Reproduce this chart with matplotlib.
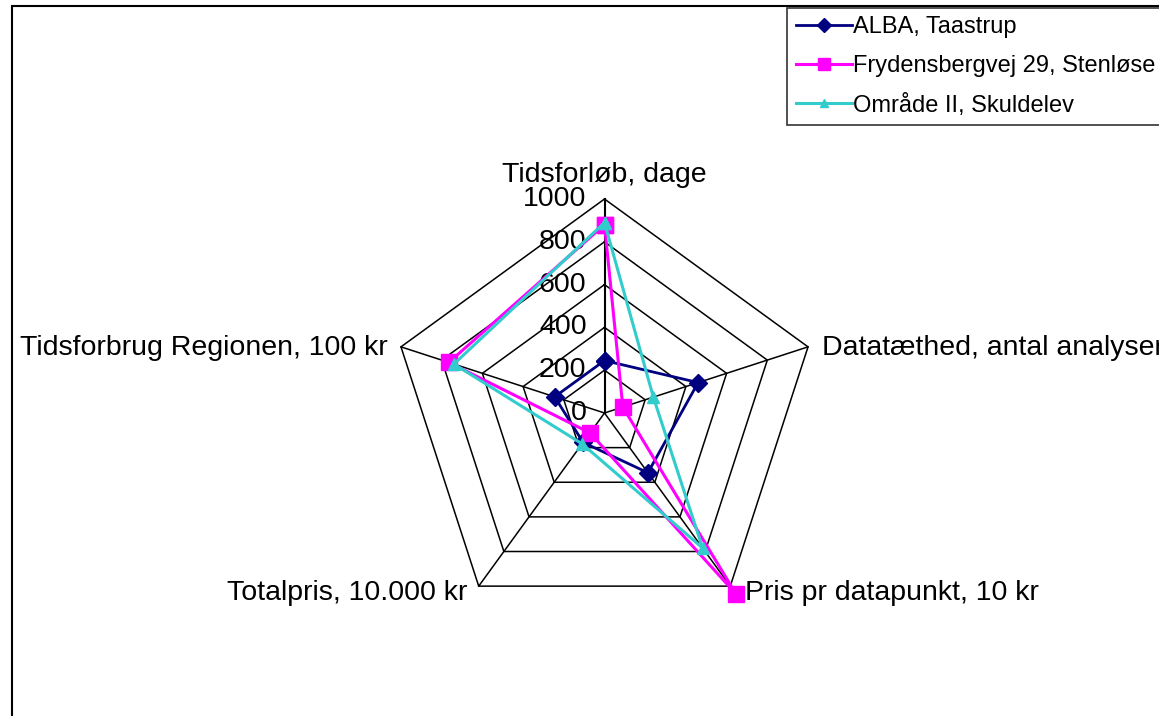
import matplotlib
matplotlib.use("Agg")
import matplotlib.pyplot as plt
import numpy as np
from matplotlib.patches import Rectangle

plt.rcParams['font.family'] = ['Liberation Sans', 'DejaVu Sans']

# akser og data
akser = ["Tidsforløb, dage", "Datatæthed, antal analyser", "Pris pr datapunkt, 10 kr",
         "Totalpris, 10.000 kr", "Tidsforbrug Regionen, 100 kr"]
alba = [245, 460, 345, 170, 245]
frydensberg = [880, 90, 1045, 115, 765]
omraade = [890, 240, 780, 178, 740]
navne = ["ALBA, Taastrup", "Frydensbergvej 29, Stenløse", "Område II, Skuldelev"]
ringe = [0, 200, 400, 600, 800, 1000]

W, H = 1159, 716
cx, cy = 604.5, 413.0   # centrum i pixels
skala = 0.214           # pixels pr enhed

fig = plt.figure(figsize=(W / 100, H / 100), dpi=100)
ax = fig.add_axes([0, 0, 1, 1])
ax.set_xlim(-cx / skala, (W - cx) / skala)
ax.set_ylim(-(H - cy) / skala, cy / skala)
ax.axis('off')

vinkler = np.arange(5) * 2 * np.pi / 5


def xy(vaerdier):
    v = np.asarray(vaerdier, dtype=float)
    x = v * np.sin(vinkler)
    y = v * np.cos(vinkler)
    return np.append(x, x[0]), np.append(y, y[0])


# gitter
for r in ringe[1:]:
    gx, gy = xy([r] * 5)
    ax.plot(gx, gy, color='black', lw=1.1, zorder=1)
ox, oy = xy([1000] * 5)
for i in range(5):
    ax.plot([0, ox[i]], [0, oy[i]], color='black', lw=1.1 if i else 1.5, zorder=1)

for r in ringe:
    ax.annotate(str(r), (0, r), xytext=(-18, 0), textcoords='offset pixels',
                ha='right', va='center', fontsize=20.5)

# aksetekster
forskyd = [(0, 17, 'center'), (14, -8, 'left'), (15, -14, 'left'),
           (-11, -14, 'right'), (-13, -8, 'right')]
for i, navn in enumerate(akser):
    dx, dy, ha = forskyd[i]
    ax.annotate(navn, (ox[i], oy[i]), xytext=(dx, dy), textcoords='offset pixels',
                ha=ha, va='baseline', fontsize=20.5)

# serier
x, y = xy(alba)
ax.plot(x, y, color='#000080', lw=2, marker='D', ms=9, label=navne[0], zorder=3)
x, y = xy(frydensberg)
ax.plot(x, y, color='#FF00FF', lw=2.2, marker='s', ms=11, label=navne[1], zorder=4)
x, y = xy(omraade)
ax.plot(x, y, color='#33CCCC', lw=2.2, marker='^', ms=8.5, label=navne[2], zorder=5)

leg = fig.legend(loc='upper left', bbox_to_anchor=(787 / W, 1 - 8 / H),
                 borderaxespad=0, fontsize=17, frameon=True, fancybox=False,
                 edgecolor='black', handlelength=2.4, handletextpad=0.03,
                 labelspacing=0.7, borderpad=0.36, markerscale=0.75)
leg.get_frame().set_linewidth(1.2)

# ramme
fig.add_artist(Rectangle((12 / W, -0.05), 1.1, (H - 6) / H + 0.05,
                         transform=fig.transFigure, fill=False,
                         edgecolor='black', lw=1.5))

plt.savefig('out.png', dpi=100)
